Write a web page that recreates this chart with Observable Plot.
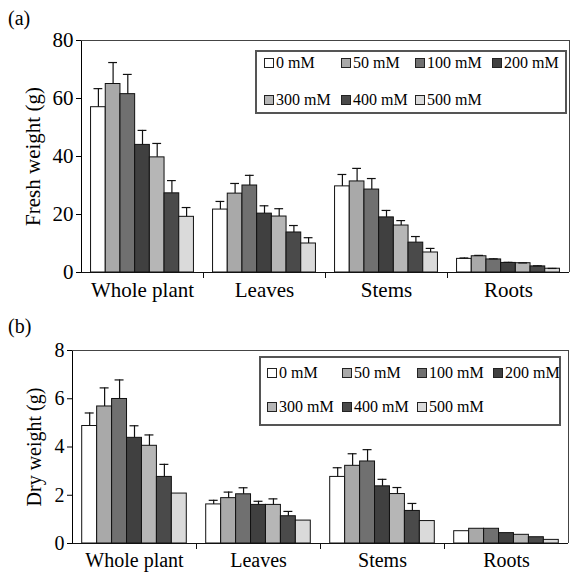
<!DOCTYPE html>
<html><head><meta charset="utf-8">
<script src="https://cdn.jsdelivr.net/npm/d3@7"></script>
<script src="https://cdn.jsdelivr.net/npm/@observablehq/plot@0.6"></script>
<style>
body{margin:0;background:#fff;}
#wrap{position:relative;width:571px;height:572px;font-family:"Liberation Serif","Times New Roman",serif;color:#000;overflow:hidden;}
.panel{position:absolute;left:0;overflow:visible;}
.tag{position:absolute;font-size:20px;line-height:1;}
.legend{position:absolute;border:2px solid #555;box-sizing:border-box;background:#fff;}
.li{position:absolute;font-size:16px;white-space:nowrap;line-height:16px;height:16px;}
.sw{display:inline-block;width:8px;height:8px;border:1px solid #222;margin-right:2px;vertical-align:0px;}
</style></head>
<body>
<div id="wrap"></div>
<script>
const categories = ["Whole plant", "Leaves", "Stems", "Roots"];
const concentrations = ["0 mM", "50 mM", "100 mM", "200 mM", "300 mM", "400 mM", "500 mM"];
const fills = ["#ffffff", "#a9a9a9", "#707070", "#404040", "#b6b6b6", "#4a4a4a", "#dadada"];

// (a) fresh weight (g): means and error (SD) per category, order = concentrations
const freshWhole = [57, 65, 61.5, 44, 39.7, 27.3, 19.2];
const freshWholeSD = [6.4, 7.4, 6.8, 5, 4.8, 4.4, 3.2];
const freshLeaves = [21.7, 27.2, 30, 20.3, 19.3, 13.8, 10];
const freshLeavesSD = [2.8, 3.5, 3.5, 2.7, 2.7, 2.4, 2];
const freshStems = [29.7, 31.4, 28.6, 19, 16.2, 10.3, 6.9];
const freshStemsSD = [4.1, 4.5, 3.8, 2.4, 1.7, 2.1, 1.4];
const freshRoots = [4.7, 5.6, 4.5, 3.3, 3.2, 2.1, 1.3];
const freshRootsSD = [0.3, 0.3, 0.2, 0.2, 0.1, 0.2, 0.1];
const freshTicks = [0, 20, 40, 60, 80];

// (b) dry weight (g)
const dryWhole = [4.87, 5.68, 5.99, 4.38, 4.05, 2.76, 2.07];
const dryWholeSD = [0.54, 0.77, 0.79, 0.5, 0.45, 0.52, 0];
const dryLeaves = [1.62, 1.88, 2.04, 1.6, 1.6, 1.13, 0.95];
const dryLeavesSD = [0.17, 0.25, 0.27, 0.15, 0.25, 0.2, 0];
const dryStems = [2.76, 3.22, 3.4, 2.37, 2.05, 1.35, 0.93];
const dryStemsSD = [0.38, 0.5, 0.49, 0.29, 0.27, 0.31, 0];
const dryRoots = [0.51, 0.61, 0.61, 0.43, 0.36, 0.26, 0.15];
const dryRootsSD = [0, 0, 0, 0, 0, 0, 0];
const dryTicks = [0, 2, 4, 6, 8];

function rows(means, sds) {
  return categories.flatMap((cat, c) => means[c].map((v, i) => ({cat, conc: concentrations[i], i, v, e: sds[c][i]})));
}
const freshData = rows([freshWhole, freshLeaves, freshStems, freshRoots], [freshWholeSD, freshLeavesSD, freshStemsSD, freshRootsSD]);
const dryData = rows([dryWhole, dryLeaves, dryStems, dryRoots], [dryWholeSD, dryLeavesSD, dryStemsSD, dryRootsSD]);

const xDomain = [-1.15, 7.15];

function panel({data, yDomain, ticks, label, height, marginTop, marginBottom, marginLeft, fontSize, labelOffset, tickPadding}) {
  const withErr = data.filter(d => d.e > 0);
  return Plot.plot({
    width: 571, height, marginTop, marginBottom, marginLeft, marginRight: 2,
    style: {fontFamily: "Liberation Serif, Times New Roman, serif", fontSize: fontSize + "px", color: "#000", background: "transparent", overflow: "visible"},
    fx: {domain: categories, padding: 0, axis: "bottom", tickSize: 0, tickPadding, label: null},
    x: {domain: xDomain, axis: null},
    y: {domain: yDomain, ticks, tickSize: 5, tickPadding: 3, line: true, label, labelAnchor: "center", labelOffset, labelArrow: "none"},
    color: {domain: concentrations, range: fills},
    marks: [
      Plot.ruleY([yDomain[1]], {stroke: "#444"}),
      Plot.ruleX(categories.slice(3), {fx: d => d, x: () => xDomain[1], y1: yDomain[0], y2: yDomain[1], stroke: "#444"}),
      Plot.rect(data, {fx: "cat", x1: d => d.i - 0.5, x2: d => d.i + 0.5, y1: 0, y2: "v", fill: "conc", stroke: "#111", strokeWidth: 1}),
      Plot.ruleX(withErr, {fx: "cat", x: "i", y1: "v", y2: d => d.v + d.e, stroke: "#111", strokeWidth: 1.2}),
      Plot.ruleY(withErr, {fx: "cat", x1: d => d.i - 0.3, x2: d => d.i + 0.3, y: d => d.v + d.e, stroke: "#111", strokeWidth: 1.2}),
      Plot.ruleY([0], {stroke: "#111"}),
      Plot.ruleX(categories.slice(0, 3), {fx: d => d, x: () => xDomain[1], y1: 0, y2: 0, insetBottom: -6, stroke: "#111"})
    ]
  });
}

const wrap = document.getElementById("wrap");

function place(el, top) {
  el.classList.add("panel");
  el.style.top = top + "px";
  wrap.appendChild(el);
}

place(panel({data: freshData, yDomain: [0, 80], ticks: freshTicks, label: "Fresh weight (g)", height: 306, marginTop: 40, marginBottom: 34, marginLeft: 80, fontSize: 21, labelOffset: 56, tickPadding: 10}), 0);
place(panel({data: dryData, yDomain: [0, 8], ticks: dryTicks, label: "Dry weight (g)", height: 266, marginTop: 44, marginBottom: 29, marginLeft: 71, fontSize: 20, labelOffset: 46, tickPadding: 9}), 306);

function tag(text, left, top) {
  const t = document.createElement("div");
  t.className = "tag"; t.textContent = text;
  t.style.left = left + "px"; t.style.top = top + "px";
  wrap.appendChild(t);
}
tag("(a)", 8, 8);
tag("(b)", 8, 316);

function legend({left, top, width, height, cols, rowCenters}) {
  const box = document.createElement("div");
  box.className = "legend";
  Object.assign(box.style, {left: left + "px", top: top + "px", width: width + "px", height: height + "px"});
  concentrations.forEach((c, k) => {
    const r = k < 4 ? 0 : 1, col = k < 4 ? k : k - 4;
    const it = document.createElement("div");
    it.className = "li";
    it.style.left = (cols[col] - 2) + "px";
    it.style.top = (rowCenters[r] - 2 - 8) + "px";
    const sw = document.createElement("span");
    sw.className = "sw"; sw.style.background = fills[k];
    it.appendChild(sw);
    it.appendChild(document.createTextNode(c));
    box.appendChild(it);
  });
  wrap.appendChild(box);
}
legend({left: 255, top: 50, width: 312, height: 64, cols: [9, 86, 160, 237], rowCenters: [13, 50]});
legend({left: 259, top: 356, width: 302, height: 70, cols: [8, 83, 158, 234], rowCenters: [17, 51]});
</script>
</body></html>
